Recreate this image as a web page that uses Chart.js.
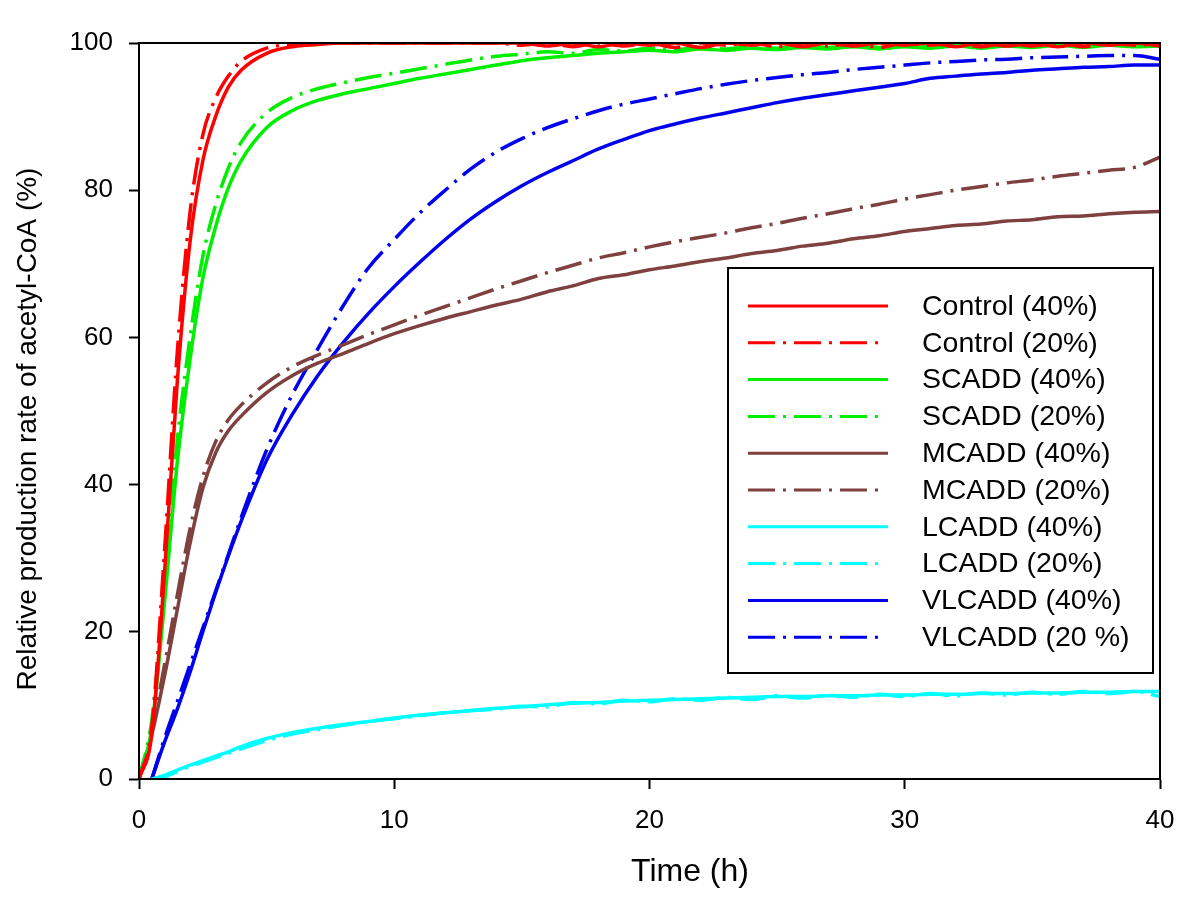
<!DOCTYPE html>
<html>
<head>
<meta charset="utf-8">
<script src="https://cdn.jsdelivr.net/npm/chart.js@4.4.1/dist/chart.umd.min.js"></script>
<style>
  html, body { margin: 0; padding: 0; background: #fff; }
</style>
</head>
<body>
<canvas id="chart" width="1200" height="898"></canvas>
<script>
// time axis (h)
const hours = [0, 0.5, 1, 1.5, 2, 2.5, 3, 3.5, 4, 5, 6, 7, 8, 9, 10, 11, 12, 13, 14, 15, 16, 17, 18, 19, 20,
  21, 22, 23, 24, 25, 26, 27, 28, 29, 30, 31, 32, 33, 34, 35, 36, 37, 38, 39, 40];

// relative production rate of acetyl-CoA (%)
const control40 = [0, 6, 28, 54, 73, 84, 90, 94, 96.3, 98.6, 99.5, 99.8, 100, 100, 100, 100, 100, 100, 100, 100,
  99.6, 100, 99.5, 100, 99.7, 100, 99.4, 100, 99.7, 100, 99.5, 100, 99.6, 100, 99.7, 100, 99.5, 100, 99.6, 100,
  99.5, 100, 99.7, 100, 99.6];
const control20 = [0, 7, 31, 58, 77, 87.5, 92.5, 95.5, 97.5, 99.3, 99.8, 100, 100, 100, 100, 100, 100, 100, 100, 99.7,
  100, 99.5, 100, 99.6, 100, 99.4, 100, 99.7, 100, 99.5, 100, 99.6, 100, 99.4, 100, 99.7, 100, 99.5, 100, 99.6,
  100, 99.5, 100, 99.7, 100];
const scadd40 = [0, 7, 24, 43, 57, 68, 75, 80.3, 84, 88.5, 90.8, 92.2, 93.1, 93.8, 94.5, 95.2, 95.8, 96.4, 97, 97.6,
  98, 98.3, 98.6, 98.8, 99, 98.8, 99.2, 99, 99.3, 99.1, 99.4, 99.2, 99.5, 99.2, 99.5, 99.3, 99.6, 99.3, 99.6, 99.4,
  99.7, 99.4, 99.7, 99.5, 99.6];
const scadd20 = [0, 8, 26, 46, 60, 71, 78, 83, 86.5, 90.5, 92.6, 93.8, 94.6, 95.3, 95.9, 96.5, 97.1, 97.7, 98.2, 98.5,
  98.8, 98.6, 99.1, 98.9, 99.3, 99.1, 99.4, 99.2, 99.6, 99.3, 99.6, 99.4, 99.7, 99.4, 99.7, 99.5, 99.8, 99.5, 99.8, 99.6,
  99.8, 99.5, 99.8, 99.6, 99.8];
const mcadd40 = [0, 6, 14, 23, 32, 39.5, 44.3, 47.3, 49.3, 52.5, 54.8, 56.5, 57.8, 59.2, 60.5, 61.6, 62.6, 63.5, 64.4, 65.2,
  66.2, 67, 68, 68.5, 69.2, 69.7, 70.3, 70.8, 71.4, 71.8, 72.4, 72.8, 73.4, 73.8, 74.4, 74.8, 75.2, 75.4, 75.8, 76,
  76.4, 76.5, 76.8, 77, 77.1];
const mcadd20 = [0, 6.5, 15.5, 25, 34, 41, 45.8, 48.8, 50.8, 53.8, 56, 57.6, 59, 60.4, 61.7, 63, 64.2, 65.4, 66.6, 67.7,
  68.8, 69.8, 70.8, 71.5, 72.3, 73, 73.6, 74.2, 74.9, 75.5, 76.2, 76.8, 77.5, 78.1, 78.8, 79.4, 80, 80.5, 81, 81.4,
  81.9, 82.3, 82.7, 83.1, 84.5];
const lcadd40 = [null, 0, 0.5, 1.2, 1.9, 2.5, 3.1, 3.7, 4.4, 5.5, 6.3, 6.9, 7.4, 7.8, 8.3, 8.7, 9, 9.3, 9.6, 9.8,
  10.1, 10.3, 10.4, 10.6, 10.7, 10.8, 10.9, 11, 11.1, 11.2, 11.2, 11.3, 11.3, 11.4, 11.4, 11.5, 11.5, 11.6, 11.6, 11.7,
  11.7, 11.8, 11.8, 11.9, 11.9];
const lcadd20 = [null, 0, 0.3, 1, 1.7, 2.3, 2.9, 3.5, 4.1, 5.2, 6.1, 6.7, 7.3, 7.8, 8.2, 8.6, 9, 9.3, 9.5, 9.9,
  9.8, 10.4, 10.2, 10.7, 10.5, 10.9, 10.7, 11.1, 10.8, 11.3, 11, 11.4, 11.1, 11.5, 11.2, 11.6, 11.3, 11.7, 11.4, 11.8,
  11.5, 11.9, 11.6, 11.9, 11.2];
const vlcadd40 = [null, 0, 5, 9.5, 14.5, 20, 25.3, 30.3, 35, 43.3, 49.5, 54.8, 59.3, 63.3, 66.9, 70.2, 73.3, 76.1, 78.5, 80.6,
  82.4, 84, 85.6, 86.9, 88.1, 89, 89.8, 90.5, 91.2, 91.9, 92.5, 93, 93.5, 94, 94.5, 95.2, 95.5, 95.8, 96, 96.3,
  96.5, 96.7, 96.8, 97, 97];
const vlcadd20 = [null, 0, 5.5, 10.5, 15.5, 20.5, 25.5, 30.5, 35.5, 44.7, 52.2, 58.4, 64.3, 69.5, 73.3, 76.9, 80, 82.9, 85.2, 87,
  88.5, 89.7, 90.8, 91.7, 92.4, 93.1, 93.8, 94.4, 94.9, 95.3, 95.7, 96, 96.4, 96.7, 97, 97.3, 97.5, 97.7, 97.8, 98,
  98.1, 98.2, 98.3, 98.3, 97.8];

const xTicks = [0, 10, 20, 30, 40];
const yTicks = [0, 20, 40, 60, 80, 100];

const RED = '#ff0000', GREEN = '#00ee00', BROWN = '#7f4040', CYAN = '#00ffff', BLUE = '#0000ee';
const DASHDOT = [27, 8, 3, 8];
const FONT = "'Liberation Sans', Arial, sans-serif";

function series(label, values, color, dashed) {
  return {
    label: label,
    data: hours.map((h, i) => ({ x: h, y: values[i] })),
    borderColor: color,
    backgroundColor: color,
    borderWidth: 3.5,
    borderDash: dashed ? DASHDOT : [],
    pointRadius: 0,
    fill: false,
    cubicInterpolationMode: 'monotone',
    spanGaps: false
  };
}

// box around the plot area
const frame = {
  id: 'frame',
  afterDatasetsDraw(chart) {
    const { ctx, chartArea: a } = chart;
    ctx.save();
    ctx.strokeStyle = '#000';
    ctx.lineWidth = 2;
    ctx.strokeRect(a.left, a.top, a.right - a.left, a.bottom - a.top);
    ctx.restore();
  }
};

// axis titles (placed off-centre like the original figure)
const axisTitles = {
  id: 'axisTitles',
  afterDraw(chart) {
    const ctx = chart.ctx;
    ctx.save();
    ctx.fillStyle = '#000';
    ctx.textAlign = 'center';
    ctx.textBaseline = 'middle';
    ctx.font = '32px ' + FONT;
    ctx.fillText('Time (h)', 690, 872);
    ctx.translate(28, 429);
    ctx.rotate(-Math.PI / 2);
    ctx.font = '28px ' + FONT;
    ctx.fillText('Relative production rate of acetyl-CoA (%)', 0, 0);
    ctx.restore();
  }
};

// legend box inside the plot
const boxLegend = {
  id: 'boxLegend',
  afterDraw(chart) {
    const ctx = chart.ctx;
    ctx.save();
    ctx.fillStyle = '#fff';
    ctx.fillRect(728, 268, 425, 405);
    ctx.strokeStyle = '#000';
    ctx.lineWidth = 2;
    ctx.strokeRect(728, 268, 425, 405);
    ctx.font = '28.5px ' + FONT;
    ctx.textBaseline = 'middle';
    chart.data.datasets.forEach((ds, i) => {
      const y = 306 + i * 36.8;
      ctx.strokeStyle = ds.borderColor;
      ctx.lineWidth = 3;
      ctx.setLineDash(ds.borderDash);
      ctx.beginPath();
      ctx.moveTo(748, y);
      ctx.lineTo(ds.borderDash.length ? 878 : 888, y);
      ctx.stroke();
      ctx.setLineDash([]);
      ctx.fillStyle = '#000';
      ctx.fillText(ds.label, 922, y + 1);
    });
    ctx.restore();
  }
};

new Chart(document.getElementById('chart'), {
  type: 'line',
  data: {
    datasets: [
      series('Control (40%)', control40, RED, false),
      series('Control (20%)', control20, RED, true),
      series('SCADD (40%)', scadd40, GREEN, false),
      series('SCADD (20%)', scadd20, GREEN, true),
      series('MCADD (40%)', mcadd40, BROWN, false),
      series('MCADD (20%)', mcadd20, BROWN, true),
      series('LCADD (40%)', lcadd40, CYAN, false),
      series('LCADD (20%)', lcadd20, CYAN, true),
      series('VLCADD (40%)', vlcadd40, BLUE, false),
      series('VLCADD (20 %)', vlcadd20, BLUE, true)
    ]
  },
  options: {
    responsive: false,
    animation: false,
    layout: { padding: { top: 43, right: 40, left: 0, bottom: 0 } },
    plugins: { legend: { display: false }, tooltip: { enabled: false } },
    scales: {
      x: {
        type: 'linear',
        min: 0,
        max: 40,
        afterBuildTicks: s => { s.ticks = xTicks.map(v => ({ value: v })); },
        afterFit: s => { s.height = 119; },
        ticks: { color: '#000', font: { family: FONT, size: 26 }, padding: 16, maxRotation: 0 },
        grid: { drawOnChartArea: false, tickLength: 10, tickColor: '#000', tickWidth: 2 },
        border: { color: '#000', width: 2 }
      },
      y: {
        min: 0,
        max: 100,
        afterBuildTicks: s => { s.ticks = yTicks.map(v => ({ value: v })); },
        afterFit: s => { s.width = 139; },
        ticks: { color: '#000', font: { family: FONT, size: 26 }, padding: 16 },
        grid: { drawOnChartArea: false, tickLength: 10, tickColor: '#000', tickWidth: 2 },
        border: { color: '#000', width: 2 }
      }
    }
  },
  plugins: [frame, axisTitles, boxLegend]
});
</script>
</body>
</html>
